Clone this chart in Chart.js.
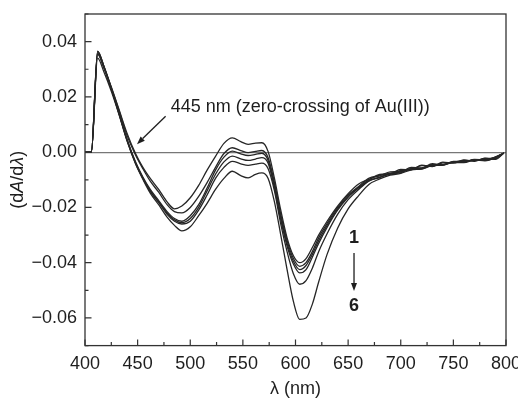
<!DOCTYPE html>
<html>
<head>
<meta charset="utf-8">
<script src="https://cdn.jsdelivr.net/npm/chart.js@4.4.1/dist/chart.umd.min.js"></script>
<style>
  html, body { margin: 0; padding: 0; background: #fff; }
  #wrap { width: 518px; height: 399px; }
</style>
</head>
<body>
<div id="wrap"><canvas id="spectra" width="518" height="399"></canvas></div>
<script>
// wavelength grid (nm) shared by all six derivative curves
const wavelengths = [400, 406, 412, 418, 425, 432, 440, 448, 455, 462, 470, 478, 485, 492, 500,
    508, 516, 524, 532, 540, 548, 555, 562, 568, 574, 580, 586, 592, 598, 604, 610, 616, 622,
    630, 640, 650, 660, 670, 680, 690, 700, 710, 720, 730, 740, 750, 760, 770, 780, 790, 798];

const series1 = [0, 0, 0.0355, 0.0305, 0.0235, 0.0158, 0.0068, -0.0005, -0.0055, -0.0095, -0.0135, -0.018, -0.0205, -0.0195, -0.0165,
    -0.012, -0.0065, -0.0015, 0.0032, 0.0052, 0.0038, 0.0028, 0.0033, 0.0034, 0.0002, -0.0095, -0.021, -0.031, -0.0375, -0.040, -0.0385, -0.0345, -0.030,
    -0.025, -0.0195, -0.015, -0.0115, -0.0098, -0.0080, -0.0078, -0.0062, -0.0064, -0.0047, -0.0052, -0.0036, -0.0040, -0.0028, -0.0033, -0.0022, -0.0026, -0.0003];
const series2 = [0, 0, 0.036, 0.031, 0.0235, 0.0155, 0.006, -0.001, -0.006, -0.0105, -0.0145, -0.019, -0.0215, -0.022, -0.020,
    -0.016, -0.011, -0.0055, -0.0005, 0.0016, 0.0006, -0.0002, 0.0003, 0.0006, -0.002, -0.011, -0.0225, -0.032, -0.0385, -0.0413, -0.040, -0.036, -0.031,
    -0.0258, -0.020, -0.0155, -0.0124, -0.0094, -0.0086, -0.0071, -0.0070, -0.0055, -0.0057, -0.0042, -0.0046, -0.0033, -0.0034, -0.0027, -0.0027, -0.0018, -0.0003];
const series3 = [0, 0, 0.0366, 0.031, 0.023, 0.0145, 0.0045, -0.0035, -0.009, -0.0135, -0.0175, -0.0215, -0.024, -0.025, -0.023,
    -0.019, -0.013, -0.0065, -0.0018, 0.0004, -0.0006, -0.0012, -0.0008, -0.0004, -0.003, -0.012, -0.0235, -0.033, -0.0395, -0.0425, -0.041, -0.037, -0.032,
    -0.0265, -0.0205, -0.016, -0.0127, -0.0100, -0.0083, -0.0080, -0.0066, -0.0063, -0.0049, -0.0050, -0.0039, -0.0037, -0.0030, -0.0031, -0.0023, -0.0023, -0.0003];
const series4 = [0, 0, 0.0365, 0.031, 0.023, 0.0145, 0.0045, -0.0038, -0.0093, -0.014, -0.018, -0.022, -0.0245, -0.0255, -0.024,
    -0.020, -0.014, -0.008, -0.0035, -0.0014, -0.0024, -0.003, -0.0025, -0.002, -0.004, -0.013, -0.0245, -0.034, -0.0405, -0.0437, -0.0425, -0.038, -0.033,
    -0.0272, -0.021, -0.0163, -0.0130, -0.0103, -0.0090, -0.0076, -0.0072, -0.0060, -0.0058, -0.0045, -0.0047, -0.0035, -0.0036, -0.0026, -0.0029, -0.0017, -0.0003];
const series5 = [0, 0, 0.0355, 0.0305, 0.0228, 0.0142, 0.0042, -0.004, -0.0095, -0.0142, -0.0182, -0.0225, -0.025, -0.026, -0.025,
    -0.021, -0.0155, -0.0095, -0.0055, -0.0033, -0.0042, -0.0048, -0.0043, -0.004, -0.006, -0.014, -0.026, -0.036, -0.044, -0.0478, -0.0465, -0.042, -0.036,
    -0.0295, -0.0225, -0.0172, -0.0135, -0.0104, -0.0092, -0.0079, -0.0075, -0.0060, -0.0060, -0.0046, -0.0045, -0.0036, -0.0037, -0.0027, -0.0030, -0.0019, -0.0003];
const series6 = [0, 0, 0.034, 0.029, 0.022, 0.014, 0.004, -0.0042, -0.0098, -0.0148, -0.019, -0.0235, -0.0265, -0.0285, -0.027,
    -0.023, -0.0185, -0.0135, -0.0095, -0.0069, -0.0085, -0.0093, -0.008, -0.0075, -0.0095, -0.018, -0.030, -0.0425, -0.054, -0.0605, -0.060, -0.055, -0.047,
    -0.037, -0.0275, -0.0205, -0.0157, -0.0116, -0.0097, -0.0083, -0.0077, -0.0064, -0.0061, -0.0049, -0.0047, -0.0038, -0.0038, -0.0029, -0.0031, -0.0020, -0.0003];

const xTicks = [400, 450, 500, 550, 600, 650, 700, 750, 800];
const yTicks = [-0.06, -0.04, -0.02, 0, 0.02, 0.04];

const allSeries = [series1, series2, series3, series4, series5, series6];

const FONT = '"Liberation Sans", Arial, sans-serif';
const INK = '#1e1e1e';
const SIZE = 18;

function fmtY(v) {
    if (Math.abs(v) < 1e-9) return '0.00';
    return (v < 0 ? '\u2212' : '') + Math.abs(v).toFixed(2);
}

// frame, inward ticks, axis titles and the two annotations
const decorations = {
    id: 'decorations',
    afterDraw(chart) {
        const { ctx, chartArea: a, scales: { x, y } } = chart;
        ctx.save();

        ctx.strokeStyle = '#333';
        ctx.lineWidth = 1.3;
        ctx.strokeRect(a.left, a.top, a.right - a.left, a.bottom - a.top);

        ctx.lineWidth = 1.2;
        ctx.beginPath();
        for (let v = 400; v <= 800; v += 25) {
            const px = x.getPixelForValue(v);
            const len = v % 50 === 0 ? 6 : 3.5;
            ctx.moveTo(px, a.bottom);
            ctx.lineTo(px, a.bottom - len);
        }
        for (let k = -7; k <= 5; k++) {
            const py = y.getPixelForValue(k / 100);
            const len = k % 2 === 0 ? 6.5 : 3.5;
            ctx.moveTo(a.left, py);
            ctx.lineTo(a.left + len, py);
        }
        ctx.stroke();

        ctx.fillStyle = INK;
        ctx.textBaseline = 'middle';

        // x title
        ctx.font = SIZE + 'px ' + FONT;
        ctx.textAlign = 'center';
        ctx.fillText('\u03bb (nm)', (a.left + a.right) / 2, 389);

        // y title with italic A and lambda
        const parts = [['(d', false], ['A', true], ['/d', false], ['\u03bb', true], [')', false]];
        const fontOf = it => (it ? 'italic ' : '') + SIZE + 'px ' + FONT;
        let total = 0;
        parts.forEach(([t, it]) => { ctx.font = fontOf(it); total += ctx.measureText(t).width; });
        ctx.translate(18, (a.top + a.bottom) / 2);
        ctx.rotate(-Math.PI / 2);
        ctx.textAlign = 'left';
        let cx = -total / 2;
        parts.forEach(([t, it]) => {
            ctx.font = fontOf(it);
            ctx.fillText(t, cx, 0);
            cx += ctx.measureText(t).width;
        });
        ctx.setTransform(1, 0, 0, 1, 0, 0);

        // zero-crossing note
        ctx.font = SIZE + 'px ' + FONT;
        ctx.textAlign = 'left';
        ctx.fillText('445 nm (zero-crossing of Au(III))', x.getPixelForValue(481.4), y.getPixelForValue(0.0165));
        arrow(ctx, x.getPixelForValue(476.6), y.getPixelForValue(0.0130),
            x.getPixelForValue(449.4), y.getPixelForValue(0.0029));

        // series order 1 -> 6
        ctx.font = 'bold ' + SIZE + 'px ' + FONT;
        ctx.textAlign = 'center';
        const lx = x.getPixelForValue(655.6);
        ctx.fillText('1', lx, y.getPixelForValue(-0.031));
        ctx.fillText('6', lx, y.getPixelForValue(-0.0557));
        arrow(ctx, lx, y.getPixelForValue(-0.0365), lx, y.getPixelForValue(-0.0502));

        ctx.restore();
    }
};

function arrow(ctx, x0, y0, x1, y1) {
    const ang = Math.atan2(y1 - y0, x1 - x0);
    const head = 8, half = 3;
    const bx = x1 - head * Math.cos(ang), by = y1 - head * Math.sin(ang);
    ctx.strokeStyle = INK;
    ctx.lineWidth = 1.3;
    ctx.beginPath();
    ctx.moveTo(x0, y0);
    ctx.lineTo(bx, by);
    ctx.stroke();
    ctx.fillStyle = INK;
    ctx.beginPath();
    ctx.moveTo(x1, y1);
    ctx.lineTo(bx + half * Math.sin(ang), by - half * Math.cos(ang));
    ctx.lineTo(bx - half * Math.sin(ang), by + half * Math.cos(ang));
    ctx.closePath();
    ctx.fill();
}

new Chart(document.getElementById('spectra'), {
    type: 'line',
    data: {
        datasets: allSeries.map((s, i) => ({
            label: String(i + 1),
            data: wavelengths.map((w, j) => ({ x: w, y: s[j] })),
            borderColor: '#262626',
            borderWidth: 1.3,
            pointRadius: 0,
            cubicInterpolationMode: 'monotone',
            fill: false
        }))
    },
    options: {
        responsive: false,
        animation: false,
        layout: { padding: { left: 0, top: 14, right: 12, bottom: 0 } },
        plugins: { legend: { display: false }, tooltip: { enabled: false } },
        scales: {
            x: {
                type: 'linear',
                min: 400,
                max: 800,
                afterBuildTicks: s => { s.ticks = xTicks.map(v => ({ value: v })); },
                afterFit: s => { s.height = 53.4; s.paddingLeft = 0; s.paddingRight = 0; },
                grid: { display: false, drawTicks: false },
                border: { display: false },
                ticks: {
                    color: INK,
                    padding: 8,
                    maxRotation: 0,
                    font: { family: FONT, size: SIZE }
                }
            },
            y: {
                type: 'linear',
                min: -0.07,
                max: 0.05,
                afterBuildTicks: s => { s.ticks = yTicks.map(v => ({ value: v })); },
                afterFit: s => { s.width = 85; s.paddingTop = 0; s.paddingBottom = 0; },
                grid: {
                    drawTicks: false,
                    color: c => (c.tick && Math.abs(c.tick.value) < 1e-9 ? '#777' : 'rgba(0,0,0,0)'),
                    lineWidth: 1.2
                },
                border: { display: false },
                ticks: {
                    color: INK,
                    padding: 8,
                    font: { family: FONT, size: SIZE },
                    callback: v => fmtY(v)
                }
            }
        }
    },
    plugins: [decorations]
});
</script>
</body>
</html>
